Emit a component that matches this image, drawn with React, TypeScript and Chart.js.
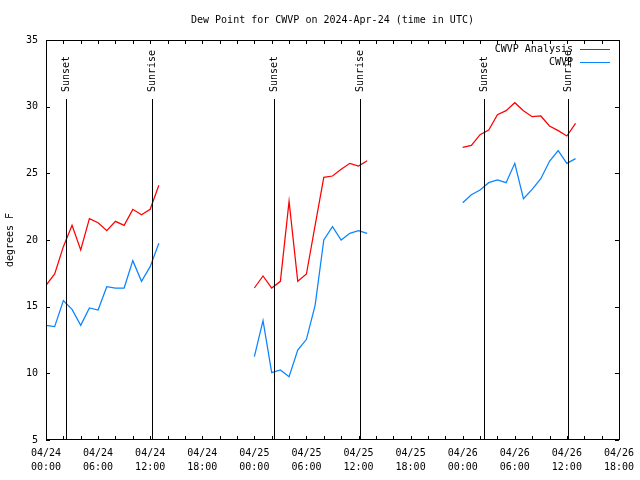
import React, { useEffect, useRef } from "react";
import { Chart, registerables } from "chart.js";

Chart.register(...registerables);

const TITLE = "Dew Point for CWVP on 2024-Apr-24 (time in UTC)";
const Y_LABEL = "degrees F";
const SERIES_NAMES = ["CWVP Analysis", "CWVP"];
const SERIES_COLORS = ["#ff0000", "#0a84ff"];

// hours since 2024-04-24 00:00 UTC
const HOURS_1 = [0, 1, 2, 3, 4, 5, 6, 7, 8, 9, 10, 11, 12, 13];
const HOURS_2 = [24, 25, 26, 27, 28, 29, 30, 31, 32, 33, 34, 35, 36, 37];
const HOURS_3 = [48, 49, 50, 51, 52, 53, 54, 55, 56, 57, 58, 59, 60, 61];

const ANALYSIS_1 = [16.6, 17.45, 19.5, 21.1, 19.25, 21.6, 21.3, 20.7, 21.4, 21.1, 22.3, 21.9, 22.3, 24.1];
const ANALYSIS_2 = [16.4, 17.3, 16.4, 16.9, 22.9, 16.9, 17.45, 21.1, 24.7, 24.8, 25.3, 25.75, 25.55, 25.95];
const ANALYSIS_3 = [26.95, 27.1, 27.9, 28.25, 29.4, 29.7, 30.3, 29.7, 29.25, 29.3, 28.55, 28.2, 27.8, 28.75];

const OBS_1 = [13.6, 13.5, 15.45, 14.8, 13.6, 14.9, 14.75, 16.5, 16.4, 16.4, 18.45, 16.9, 18.0, 19.75];
const OBS_2 = [11.25, 13.95, 10.05, 10.25, 9.75, 11.75, 12.55, 15.1, 20.0, 21.0, 20.0, 20.5, 20.7, 20.5];
const OBS_3 = [22.8, 23.4, 23.75, 24.3, 24.5, 24.3, 25.75, 23.1, 23.8, 24.6, 25.9, 26.7, 25.75, 26.1];

const X_TICK_LABELS = [
  ["04/24", "00:00"], ["04/24", "06:00"], ["04/24", "12:00"], ["04/24", "18:00"],
  ["04/25", "00:00"], ["04/25", "06:00"], ["04/25", "12:00"], ["04/25", "18:00"],
  ["04/26", "00:00"], ["04/26", "06:00"], ["04/26", "12:00"], ["04/26", "18:00"],
];

const EVENT_HOURS = [2.33, 12.2, 26.32, 36.19, 50.4, 60.17];
const EVENT_LABELS = ["Sunset", "Sunrise", "Sunset", "Sunrise", "Sunset", "Sunrise"];

const FONT = "10px 'DejaVu Sans Mono', monospace";

function segmentsToPoints(hs: number[][], vs: number[][]) {
  const pts: { x: number; y: number | null }[] = [];
  hs.forEach((h, i) => {
    if (i > 0) pts.push({ x: h[0] - 0.5, y: null });
    h.forEach((x, j) => pts.push({ x, y: vs[i][j] }));
  });
  return pts;
}

const decorPlugin = {
  id: "decor",
  afterDatasetsDraw(chart: any) {
    const ctx = chart.ctx;
    const { left, right, top, bottom } = chart.chartArea;
    const xs = chart.scales.x;
    const ys = chart.scales.y;
    ctx.save();
    ctx.strokeStyle = "#000";
    ctx.lineWidth = 1;
    // event lines
    EVENT_HOURS.forEach((h) => {
      const x = Math.round(xs.getPixelForValue(h)) + 0.5;
      ctx.beginPath();
      ctx.moveTo(x, 99);
      ctx.lineTo(x, bottom);
      ctx.stroke();
    });
    // border
    ctx.strokeRect(Math.round(left) + 0.5, Math.round(top) + 0.5, Math.round(right - left), Math.round(bottom - top) - 1);
    // x ticks
    for (let h = 0; h <= 66; h += 2) {
      const x = Math.round(xs.getPixelForValue(h)) + 0.5;
      const len = 4;
      ctx.beginPath();
      ctx.moveTo(x, bottom);
      ctx.lineTo(x, bottom - len);
      ctx.moveTo(x, top);
      ctx.lineTo(x, top + len);
      ctx.stroke();
    }
    // y ticks
    for (let v = 5; v <= 35; v += 5) {
      const y = Math.round(ys.getPixelForValue(v)) + 0.5;
      ctx.beginPath();
      ctx.moveTo(left, y);
      ctx.lineTo(left + 4, y);
      ctx.moveTo(right, y);
      ctx.lineTo(right - 4, y);
      ctx.stroke();
    }
    ctx.fillStyle = "#000";
    ctx.font = FONT;
    // event labels
    EVENT_HOURS.forEach((h, i) => {
      const x = Math.round(xs.getPixelForValue(h)) + 0.5;
      ctx.save();
      ctx.translate(x, 92);
      ctx.rotate(-Math.PI / 2);
      ctx.textAlign = "left";
      ctx.textBaseline = "middle";
      ctx.fillText(EVENT_LABELS[i], 0, 0);
      ctx.restore();
    });
    // title
    ctx.textAlign = "center";
    ctx.textBaseline = "middle";
    ctx.fillText(TITLE, (left + right) / 2, 20);
    // y label
    ctx.save();
    ctx.translate(10, (top + bottom) / 2);
    ctx.rotate(-Math.PI / 2);
    ctx.fillText(Y_LABEL, 0, 0);
    ctx.restore();
    // legend
    SERIES_NAMES.forEach((name, i) => {
      const y = 49 + i * 13;
      ctx.textAlign = "right";
      ctx.fillStyle = "#000";
      ctx.fillText(name, 573, y);
      ctx.strokeStyle = SERIES_COLORS[i];
      ctx.beginPath();
      ctx.moveTo(580, y + 0.5);
      ctx.lineTo(610, y + 0.5);
      ctx.stroke();
    });
    ctx.restore();
  },
};

export default function App() {
  const ref = useRef<HTMLCanvasElement>(null);
  useEffect(() => {
    document.body.style.margin = "0";
    const chart = new Chart(ref.current!, {
      type: "line",
      data: {
        datasets: [
          {
            label: SERIES_NAMES[0],
            data: segmentsToPoints([HOURS_1, HOURS_2, HOURS_3], [ANALYSIS_1, ANALYSIS_2, ANALYSIS_3]) as any,
            borderColor: SERIES_COLORS[0],
            borderWidth: 1.25,
            pointRadius: 0,
            tension: 0,
            spanGaps: false,
          },
          {
            label: SERIES_NAMES[1],
            data: segmentsToPoints([HOURS_1, HOURS_2, HOURS_3], [OBS_1, OBS_2, OBS_3]) as any,
            borderColor: SERIES_COLORS[1],
            borderWidth: 1.25,
            pointRadius: 0,
            tension: 0,
            spanGaps: false,
          },
        ],
      },
      options: {
        responsive: false,
        animation: false,
        layout: { padding: { top: 40, right: 19, left: 0, bottom: 0 } },
        plugins: { legend: { display: false }, title: { display: false }, tooltip: { enabled: false } },
        scales: {
          x: {
            type: "linear",
            min: 0,
            max: 66,
            grid: { display: false, drawTicks: false },
            border: { display: false },
            afterBuildTicks: (s: any) => {
              s.ticks = X_TICK_LABELS.map((_, i) => ({ value: i * 6 }));
            },
            afterFit: (s: any) => {
              s.height = 40;
            },
            ticks: {
              autoSkip: false,
              maxRotation: 0,
              padding: 6,
              color: "#000",
              font: { family: "'DejaVu Sans Mono', monospace", size: 10, lineHeight: 1.4 },
              callback: (v: any) => X_TICK_LABELS[Math.round(Number(v) / 6)],
            },
          },
          y: {
            min: 5,
            max: 35,
            grid: { display: false, drawTicks: false },
            border: { display: false },
            afterFit: (s: any) => {
              s.width = 46;
            },
            ticks: {
              stepSize: 5,
              padding: 8,
              color: "#000",
              font: { family: "'DejaVu Sans Mono', monospace", size: 10 },
            },
          },
        },
      },
      plugins: [decorPlugin],
    });
    return () => chart.destroy();
  }, []);
  return <canvas ref={ref} width={640} height={480} style={{ display: "block" }} />;
}
